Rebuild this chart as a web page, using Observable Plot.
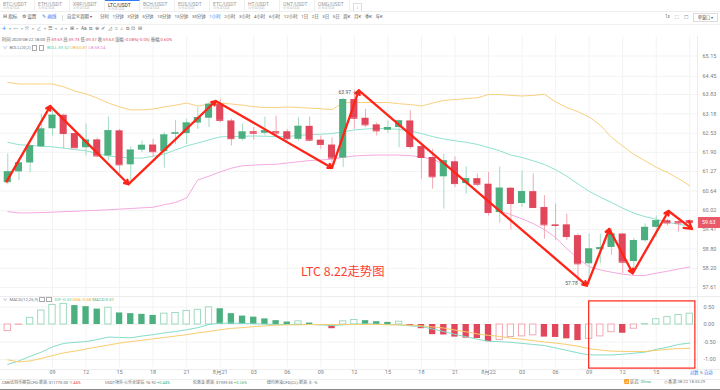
<!DOCTYPE html>
<html><head><meta charset="utf-8">
<script src="https://cdn.jsdelivr.net/npm/d3@7"></script>
<script src="https://cdn.jsdelivr.net/npm/@observablehq/plot@0.6"></script>
<style>
html,body{margin:0;padding:0;background:#fff;}
body{width:720px;height:390px;overflow:hidden;position:relative;font-family:Roboto,"Noto Sans CJK SC",sans-serif;}
.a{position:absolute;white-space:nowrap;line-height:1;}
.hl{position:absolute;height:1px;background:#ececec;}
.vl{position:absolute;width:1px;background:#e8e8e8;}
#main,#macd{position:absolute;left:0;}
#main svg,#macd svg{display:block;overflow:visible;}
.box{display:inline-block;width:3.5px;height:3.5px;border:0.6px solid #aaa;margin-right:1.5px;vertical-align:middle;}
</style></head><body>
<div id="main"></div><div id="macd"></div>
<script>
// ---------------- data ----------------
const pairs = ["BTC/USDT","ETH/USDT","XRP/USDT","LTC/USDT","BCH/USDT","EOS/USDT","ETC/USDT","HT/USDT","ONT/USDT","OMG/USDT"];
const pairSub = "火币全球站";
const activePair = "LTC/USDT";
const periods = ["分时","1分钟","3分钟","5分钟","10分钟","15分钟","30分钟","1小时","2小时","3小时","4小时","6小时","12小时","1日","2日","3日","5日","周K","月K","季K","年K"];
const activePeriod = "1小时";
const drawIcons = ["✛","▾","┅","▾","⤧","▾","∠","▾","☰","▾","⩘","▾","⊞","▾","Aa","⧉","⊛","✐","◿","⌗","⌂","⧉","⊡","⊟"];

const startHour = "2020-08-20T05:00:00Z";
const open  = [60.91,61.26,61.55,62.08,62.68,63.13,62.52,62.05,62.31,61.78, 62.61,61.49,61.97,62.14,61.92,62.50,62.52,62.87,63.03,63.50, 62.94,62.33,62.58,62.53,62.58,62.58,62.33,62.76,62.30,62.14, 61.71,63.66,63.03,62.81,62.63,62.72,62.94,62.09,61.73,61.10, 61.59,60.88,61.04,60.86,59.95,60.73,60.24,60.62,60.11,59.56, 59.56,59.22,58.34,58.78,58.85,59.27,58.41,59.06,59.48,59.69, 59.66,59.69];
const high  = [61.85,61.62,62.14,63.17,63.37,63.17,62.54,62.84,62.37,63.07, 62.66,62.08,62.27,62.33,62.55,62.96,63.00,63.38,63.55,63.67, 63.00,62.83,62.72,63.07,63.10,62.66,63.05,63.07,62.44,62.38, 63.70,63.97,63.33,62.88,62.94,62.96,63.29,62.16,62.00,61.84, 61.75,61.42,61.19,61.24,61.42,60.75,61.29,61.19,60.49,60.22, 59.90,59.27,59.27,59.27,59.43,59.29,59.13,59.59,59.84,59.74, 59.69,59.73];
const low   = [60.84,60.97,61.23,62.05,62.44,62.01,62.03,61.78,61.73,61.62, 61.19,60.97,61.89,61.73,61.38,62.16,62.16,62.66,62.72,62.88, 62.11,62.27,62.30,62.44,62.38,62.27,62.27,62.25,62.00,61.40, 61.40,62.66,62.72,62.44,62.52,62.05,62.00,61.02,60.70,60.06, 60.75,60.54,60.78,59.84,59.61,59.40,60.11,60.11,59.11,59.06, 59.06,57.78,57.82,58.34,58.60,58.03,58.03,59.01,59.17,59.53, 59.33,59.37];
const close = [61.26,61.55,62.11,62.67,63.13,62.52,62.05,62.30,61.78,62.61, 61.49,61.97,62.13,61.92,62.47,62.54,62.87,63.05,63.50,62.96, 62.35,62.57,62.53,62.61,62.54,62.35,62.76,62.30,62.16,61.71, 63.66,63.03,62.81,62.61,62.72,62.94,62.09,61.73,61.10,61.62, 60.88,61.04,60.86,59.95,60.73,60.24,60.62,60.11,59.56,59.54, 59.19,58.34,58.80,58.84,59.27,58.39,59.06,59.48,59.69,59.62, 59.62,59.63];
const bollUpper = [64.24,64.19,64.19,64.19,64.19,64.09,63.95,63.85,63.71,63.54, 63.41,63.31,63.31,63.34,63.41,63.47,63.54,63.44,63.51,63.54, 63.51,63.47,63.42,63.39,63.39,63.41,63.39,63.37,63.35,63.32, 63.56,63.56,63.56,63.56,63.56,63.52,63.49,63.44,63.54,63.63, 63.66,63.69,63.72,63.83,63.83,63.80,63.78,63.80,63.84,63.58, 63.39,63.25,63.07,62.80,62.39,62.11,61.83,61.62,61.41,61.24, 61.04,60.81];
const bollMid = [62.23,62.15,62.13,62.10,62.08,62.04,61.99,61.95,61.86,61.78, 61.74,61.71,61.71,61.77,61.84,61.98,62.11,62.21,62.31,62.41, 62.42,62.43,62.44,62.43,62.42,62.42,62.46,62.48,62.50,62.52, 62.58,62.64,62.67,62.69,62.68,62.66,62.61,62.52,62.42,62.34, 62.28,62.23,62.16,62.06,61.95,61.81,61.73,61.62,61.50,61.33, 61.12,60.87,60.63,60.44,60.27,60.09,59.93,59.82,59.74,59.64, 59.58,59.52];
const bollLower = [59.98,59.94,59.94,59.95,59.96,59.98,59.99,60.01,60.02,60.04, 60.06,60.08,60.10,60.12,60.20,60.27,60.42,61.00,61.12,61.26, 61.38,61.46,61.48,61.50,61.51,61.55,61.59,61.63,61.65,61.67, 61.74,61.78,61.80,61.81,61.81,61.81,61.79,61.75,61.67,61.52, 61.23,60.94,60.59,60.27,60.01,59.88,59.75,59.60,59.41,59.16, 58.81,58.50,58.25,58.15,58.08,58.02,57.98,57.98,58.05,58.11, 58.18,58.24];
const macdHist = [-0.19,-0.01,0.19,0.40,0.56,0.59,0.54,0.51,0.44,0.48, 0.33,0.31,0.29,0.26,0.31,0.33,0.39,0.42,0.49,0.45, 0.31,0.24,0.21,0.16,0.11,0.07,0.09,0.04,-0.03,-0.12, 0.09,0.13,0.11,0.08,0.06,0.08,-0.04,-0.12,-0.29,-0.30, -0.36,-0.39,-0.40,-0.49,-0.44,-0.36,-0.34,-0.31,-0.36,-0.37, -0.41,-0.46,-0.41,-0.34,-0.22,-0.25,-0.12,0.01,0.15,0.21, 0.27,0.31];
const dif = [-1.14,-1.04,-0.91,-0.79,-0.64,-0.54,-0.51,-0.49,-0.43,-0.36, -0.37,-0.38,-0.33,-0.29,-0.24,-0.20,-0.15,-0.09,0.00,0.04, 0.04,0.03,0.02,0.01,0.00,0.00,0.00,0.00,-0.01,-0.03, -0.01,0.01,0.02,0.01,0.00,-0.01,-0.04,-0.06,-0.13,-0.20, -0.28,-0.35,-0.42,-0.48,-0.49,-0.51,-0.54,-0.57,-0.60,-0.67, -0.74,-0.81,-0.87,-0.87,-0.87,-0.85,-0.82,-0.79,-0.71,-0.65, -0.57,-0.53];
const dea = [-1.01,-1.07,-1.04,-0.97,-0.89,-0.81,-0.76,-0.70,-0.64,-0.59, -0.53,-0.49,-0.45,-0.41,-0.37,-0.33,-0.29,-0.24,-0.20,-0.15, -0.11,-0.09,-0.06,-0.04,-0.02,-0.01,-0.01,0.00,0.00,0.00, 0.00,0.00,0.00,0.00,-0.01,-0.01,-0.02,-0.04,-0.07,-0.10, -0.16,-0.21,-0.27,-0.31,-0.34,-0.39,-0.42,-0.46,-0.50,-0.53, -0.57,-0.62,-0.69,-0.73,-0.76,-0.77,-0.77,-0.77,-0.74,-0.71, -0.69,-0.68];

const priceTicks = [57.61,58.20,58.80,59.41,60.02,60.64,61.27,61.90,62.53,63.18,63.83,64.45,65.15];
const macdTicks = [0.5,0,-0.5,-1];

// hand-drawn trend arrows (hour offset from start, price)
const trendHours  = [-0.1, 3.8, 10.8, 18.6, 29.0, 31.4, 51.8, 53.8, 55.9, 59.1, 61.2];
const trendPrices = [60.95,63.44,60.86,63.61,61.39,63.97,57.67,59.43,58.05,60.00,59.43];

// annotation box in MACD panel
const boxStart = "2020-08-22T09:00:00Z", boxEnd = "2020-08-22T18:30:00Z", boxHigh = 0.66, boxLow = -1.26;

const chartTitle = "LTC 8.22走势图";
const quoteTime = "2020-08-22 18:00", quoteOpen = "59.69", quoteHigh = "59.73", quoteLow = "59.37", quoteClose = "59.63", quoteChange = "-0.08%(-0.05)", quoteAmp = "0.60%";
const tickerNames = ["CME比特币期货CFD-新浪:", "USDT场外-火币全球站:", "伦敦金-新浪:", "纽约原油CFD(CL)-新浪:"];
const tickerPrices = ["$11770.00", "¥6.92", "$1939.55", "$-"];
const tickerChanges = ["-1.44%", "+0.44%", "+0.26%", "-%"];

// ---------------- layout / style ----------------
const MAIN_TOP = 36, MAIN_H = 260, MACD_TOP = 296, MACD_H = 84;
const xDomain = [new Date("2020-08-20T09:00:00Z"), new Date("2020-08-22T12:00:00Z")];
const xRange = [52, 622.2];
const GREEN = "#4caf7f", RED = "#e2465b", GREEN_W = "#a3dcc2", RED_W = "#f2a8b2";
const GREEN_H = "#95d7b8", RED_H = "#f0a0ab";
const RED_LINE = "#ff2418";
const FONT = "Roboto, 'Noto Sans CJK SC', sans-serif";
const HOUR = 3600e3;

const t0 = new Date(startHour);
const candles = open.map((o, i) => ({
  t: new Date(+t0 + i * HOUR), open: o, high: high[i], low: low[i], close: close[i],
  up: bollUpper[i], mid: bollMid[i], lo: bollLower[i],
  hist: macdHist[i], prevHist: i ? macdHist[i - 1] : -Infinity, dif: dif[i], dea: dea[i]
}));
const gridTimes = d3.utcHour.every(3).range(new Date("2020-08-20T09:00:00Z"), new Date("2020-08-22T18:30:00Z"));
const tickTimes = gridTimes.filter(d => d <= new Date("2020-08-22T15:00:00Z"));
const fmtTick = d => d.getUTCHours() === 0 ? `${d.getUTCMonth() + 1}月${d.getUTCDate()}` : d3.utcFormat("%H")(d);
const trendSegs = trendHours.slice(1).map((h, i) => ({
  ta: new Date(+t0 + trendHours[i] * HOUR), pa: trendPrices[i],
  tb: new Date(+t0 + h * HOUR), pb: trendPrices[i + 1]
}));
const isUp = d => d.close >= d.open;
const bodyHalf = 19 * 60e3, histHalf = 17 * 60e3;

const maxC = candles.reduce((a, b) => b.high > a.high ? b : a);
const minC = candles.reduce((a, b) => b.low < a.low ? b : a);

const main = Plot.plot({
  width: 720, height: MAIN_H, marginTop: 0, marginBottom: 0, marginLeft: 0, marginRight: 23,
  style: {fontFamily: FONT, fontSize: "5.5px", color: "#808080", background: "transparent"},
  x: {type: "utc", domain: xDomain, range: xRange, axis: null},
  y: {type: "log", domain: [priceTicks[0], priceTicks[priceTicks.length - 1]], range: [287 - MAIN_TOP, 55.5 - MAIN_TOP]},
  color: {type: "identity"},
  marks: [
    Plot.ruleY(priceTicks, {stroke: "#f3f3f3"}),
    Plot.ruleX(gridTimes, {stroke: "#f3f3f3"}),
    Plot.line(candles, {x: "t", y: "up", stroke: "#f9d07f", strokeWidth: 1}),
    Plot.line(candles, {x: "t", y: "mid", stroke: "#8fe2d0", strokeWidth: 1}),
    Plot.line(candles, {x: "t", y: "lo", stroke: "#f4aae0", strokeWidth: 1}),
    Plot.ruleX(candles, {x: "t", y1: "low", y2: "high", stroke: d => isUp(d) ? GREEN_W : RED_W, strokeWidth: 1}),
    Plot.rect(candles, {x1: d => new Date(+d.t - bodyHalf), x2: d => new Date(+d.t + bodyHalf), y1: "open", y2: "close", fill: d => isUp(d) ? GREEN : RED}),
    Plot.ruleY(candles, {x1: d => new Date(+d.t - bodyHalf), x2: d => new Date(+d.t + bodyHalf), y: "close", stroke: d => isUp(d) ? GREEN : RED, strokeWidth: 1}),
    Plot.arrow(trendSegs.slice(0, -1), {x1: "ta", y1: "pa", x2: "tb", y2: "pb", stroke: RED_LINE, strokeWidth: 2.3, headLength: 3}),
    Plot.arrow(trendSegs.slice(-1), {x1: "ta", y1: "pa", x2: "tb", y2: "pb", stroke: RED_LINE, strokeWidth: 2.3, headLength: 5.5}),
    Plot.text([maxC], {x: "t", y: "high", text: d => `${d.high.toFixed(2)} →`, textAnchor: "end", dx: 3, dy: 2, fill: "#555", fontSize: 5}),
    Plot.text([minC], {x: "t", y: "low", text: d => `${d.low.toFixed(2)} →`, textAnchor: "end", dx: 6, dy: 1, fill: "#555", fontSize: 5}),
    Plot.axisY(priceTicks, {anchor: "right", tickSize: 0, tickPadding: 5, tickFormat: d => d.toFixed(2), fontSize: 5.5, label: null})
  ]
});
document.getElementById("main").style.top = MAIN_TOP + "px";
document.getElementById("main").appendChild(main);

const macd = Plot.plot({
  width: 720, height: MACD_H, marginTop: 0, marginBottom: 13, marginLeft: 0, marginRight: 23,
  style: {fontFamily: FONT, fontSize: "5.5px", color: "#808080", background: "transparent"},
  x: {type: "utc", domain: xDomain, range: xRange},
  y: {domain: [-1, 0.5], range: [359 - MACD_TOP, 306.5 - MACD_TOP]},
  color: {type: "identity"},
  marks: [
    Plot.ruleY(macdTicks, {stroke: "#f3f3f3"}),
    Plot.ruleX(gridTimes, {stroke: "#f3f3f3"}),
    Plot.rect(candles, {
      x1: d => new Date(+d.t - histHalf), x2: d => new Date(+d.t + histHalf), y1: 0, y2: "hist",
      fill: d => d.hist >= d.prevHist ? "#ffffff" : (d.hist >= 0 ? GREEN : RED),
      stroke: d => d.hist >= d.prevHist ? (d.hist >= 0 ? GREEN_H : RED_H) : "none",
      strokeWidth: 0.9
    }),
    Plot.line(candles, {x: "t", y: "dif", stroke: "#84ddc9", strokeWidth: 1}),
    Plot.line(candles, {x: "t", y: "dea", stroke: "#f8cd6e", strokeWidth: 1}),
    Plot.rect([{a: new Date(boxStart), b: new Date(boxEnd), hi: boxHigh, lo: boxLow}], {x1: "a", x2: "b", y1: "lo", y2: "hi", fill: "none", stroke: RED_LINE, strokeWidth: 1.2}),
    Plot.axisY(macdTicks, {anchor: "right", tickSize: 0, tickPadding: 6, tickFormat: d => d.toFixed(2), fontSize: 5.5, label: null}),
    Plot.axisX(tickTimes, {anchor: "bottom", tickSize: 0, tickPadding: 3, tickFormat: fmtTick, fontSize: 5.5, label: null})
  ]
});
document.getElementById("macd").style.top = MACD_TOP + "px";
document.getElementById("macd").appendChild(macd);

// ---------------- HTML chrome ----------------
const body = document.body;
function el(cls, style, html) {
  const d = document.createElement("div");
  d.className = cls; d.setAttribute("style", style); if (html != null) d.innerHTML = html;
  body.appendChild(d); return d;
}
// tabs
pairs.forEach((p, i) => {
  const act = p === activePair;
  el("a", `left:${i * 35}px;top:0;width:34px;height:11px;border-right:1px solid #efefef;${act ? "border-top:1px solid #2f7cf6;top:-0.5px;" : ""}`,
    `<div style="position:absolute;left:3px;top:2px;font-size:5px;color:${act ? "#333" : "#9a9a9a"}">${p}</div>` +
    `<div style="position:absolute;left:3px;top:7.2px;font-size:3.3px;color:#c4c4c4">${pairSub}</div>`);
});
el("a", "left:353px;top:2.5px;width:7px;height:7px;border:0.6px solid #ddd;font-size:5px;color:#999;text-align:center;line-height:7px", "›");
el("hl", "left:0;top:11px;width:720px;background:#eeeeee");
el("hl", "left:0;top:23.5px;width:720px;background:#f0f0f0");
// tools row
el("a", "left:3px;top:15.2px;font-size:4.6px;color:#555", "⊟ 指标");
el("a", "left:22px;top:15.2px;font-size:4.6px;color:#555", "⚙ 设置");
el("a", "left:42px;top:15.2px;font-size:4.6px;color:#2f7cf6", "✎ 画线");
el("a", "left:62px;top:14.5px;width:0.6px;height:6px;background:#ddd", "");
el("a", "left:67px;top:15.2px;font-size:4.4px;color:#555", "自定义周期 ▾");
el("a", "left:100px;top:15.2px;width:283px;display:flex;justify-content:space-between;font-size:4.4px;color:#555",
  periods.map(p => `<span style="color:${p === activePeriod ? "#2f7cf6" : "#555"}">${p}</span>`).join(""));
el("a", "left:665px;top:15.2px;font-size:4.6px;color:#777", "1s");
el("a", "left:675px;top:14.8px;font-size:5px;color:#888", "⛶");
el("a", "left:684px;top:14.8px;font-size:5px;color:#888", "☐");
el("a", "left:693px;top:13px;width:23px;height:7px;border:0.6px solid #ddd;font-size:4.2px;color:#555;text-align:center;line-height:7px", "单窗口 ▾");
// drawing icons row
el("a", "left:2px;top:27px;display:flex;gap:2.6px;font-size:4.8px;color:#777",
  drawIcons.map((g, i) => `<span style="color:${i === 0 ? "#2f7cf6" : (g === "▾" ? "#aaa" : "#666")};${g === "▾" ? "font-size:3.5px;margin-top:1px;" : ""}">${g}</span>`).join(""));
// quote line
const rv = v => `<span style="color:#e3485c">${v}</span>`;
el("a", "left:2px;top:37.5px;font-size:4.3px;color:#666",
  `时间:${quoteTime} 开:${rv(quoteOpen)} 高:${rv(quoteHigh)} 低:${rv(quoteLow)} 收:${rv(quoteClose)} 涨幅:${rv(quoteChange)} 振幅:${rv(quoteAmp)}`);
// BOLL legend
el("a", "left:3px;top:45px;font-size:4.3px;color:#777",
  `∨&nbsp; BOLL(20,2) <span class="box"></span><span class="box"></span> <span style="color:#4fcfb3">BOLL:${bollMid[bollMid.length - 1].toFixed(2)}</span> <span style="color:#f3b13b">UB:${bollUpper[bollUpper.length - 1].toFixed(2)}</span> <span style="color:#ea7fd3">LB:${bollLower[bollLower.length - 1].toFixed(2)}</span>`);
// MACD legend
el("a", "left:3px;top:296.8px;font-size:4.3px;color:#777",
  `∨&nbsp; MACD(12,26,9) <span class="box"></span><span class="box"></span> <span style="color:#4fcfb3">DIF:${dif[dif.length - 1].toFixed(2)}</span> <span style="color:#f3b13b">DEA:${dea[dea.length - 1].toFixed(2)}</span> <span style="color:#4fb283">MACD:${macdHist[macdHist.length - 1].toFixed(2)}</span>`);
// separators
el("vl", "left:697px;top:36px;height:333px;background:#ececec");
el("hl", "left:0;top:296px;width:720px;background:#ececec");
el("hl", "left:0;top:368.5px;width:720px;background:#eeeeee");
el("hl", "left:0;top:378.5px;width:720px;background:#eeeeee");
el("hl", "left:0;top:389px;width:720px;background:#8a8a8a");
// price label
const lastClose = close[close.length - 1];
const py = MAIN_TOP + main.scale("y").apply(lastClose);
el("a", `left:697.5px;top:${py - 5.5}px;width:22.5px;height:11px;background:#e95a69;color:#fff;font-size:5.3px;line-height:11px;text-align:center`, lastClose.toFixed(2));
// chart title
el("a", "left:301px;top:264.5px;font-size:12.3px;color:#ff3b30;font-family:'Noto Sans CJK SC',sans-serif", chartTitle);
// axis mode
el("a", "left:690px;top:371px;font-size:4.3px;color:#777", `<span style="color:#2f7cf6">对数</span> % <span style="color:#2f7cf6">自动</span>`);
// bottom ticker bar
const tickerX = [2, 105, 193, 267];
tickerNames.forEach((n, i) => {
  const c = tickerChanges[i].startsWith("-") && tickerChanges[i] !== "-%" ? "#e3485c" : (tickerChanges[i] === "-%" ? "#777" : "#3fb07c");
  el("a", `left:${tickerX[i]}px;top:380.5px;font-size:4px;color:#666`, `${n} ${tickerPrices[i]} <span style="color:${c}">${tickerChanges[i]}</span>`);
});
el("a", "left:624px;top:380.3px;font-size:4.2px;color:#777", `📶 延迟: <span style="color:#3fb07c">35ms</span>`);
el("a", "left:664px;top:380.3px;font-size:4.2px;color:#777", `◷ 香港 08-22 18:35:29`);
</script>
</body></html>
